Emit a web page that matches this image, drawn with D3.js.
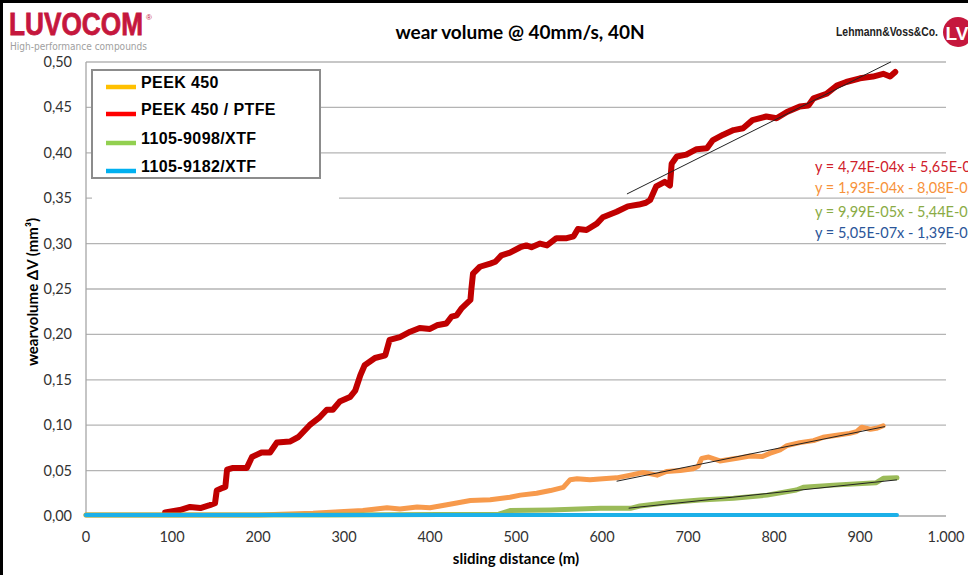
<!DOCTYPE html>
<html>
<head>
<meta charset="utf-8">
<script src="https://cdn.jsdelivr.net/npm/d3@7"></script>
<style>
  body { margin: 0; background: #fff; }
  svg { display: block; }
</style>
</head>
<body>
<script>
// series names and colours
const seriesNames = ['PEEK 450', 'PEEK 450 / PTFE', '1105-9098/XTF', '1105-9182/XTF'];
const legendColours = ['#ffc000', '#ff0000', '#92d050', '#00b0f0'];
const lineColours = ['#f79a4c', '#c00000', '#9bbb59', '#1cb0e8'];

// PEEK 450 / PTFE
const redDist = [92, 109, 121, 133, 144, 150, 152, 159, 162, 164, 171, 187, 193, 204, 214, 222, 237, 247, 260, 272, 280, 287, 295, 307, 313, 319, 324, 336, 348, 353, 365, 377, 388, 400, 408, 419, 425, 431, 437, 447, 448, 450, 458, 470, 476, 483, 493, 505, 512, 518, 528, 536, 547, 559, 567, 572, 582, 594, 601, 617, 630, 643, 651, 656, 663, 673, 679, 681, 687, 698, 710, 722, 729, 741, 753, 764, 775, 791, 803, 815, 830, 840, 846, 861, 873, 884, 900, 915, 927, 935, 941];
const redVol = [0.004, 0.0066, 0.010, 0.0088, 0.012, 0.014, 0.028, 0.031, 0.032, 0.051, 0.053, 0.053, 0.065, 0.070, 0.070, 0.081, 0.082, 0.087, 0.100, 0.109, 0.117, 0.117, 0.126, 0.131, 0.138, 0.155, 0.166, 0.174, 0.177, 0.194, 0.197, 0.203, 0.207, 0.206, 0.210, 0.212, 0.2195, 0.221, 0.229, 0.238, 0.249, 0.267, 0.2745, 0.278, 0.280, 0.287, 0.290, 0.296, 0.298, 0.296, 0.300, 0.298, 0.306, 0.306, 0.308, 0.316, 0.315, 0.322, 0.329, 0.335, 0.341, 0.343, 0.345, 0.348, 0.363, 0.368, 0.364, 0.388, 0.396, 0.398, 0.404, 0.405, 0.414, 0.420, 0.425, 0.427, 0.436, 0.440, 0.438, 0.445, 0.451, 0.452, 0.460, 0.465, 0.474, 0.478, 0.482, 0.484, 0.487, 0.484, 0.489];

// PEEK 450
const orangeDist = [0, 200, 264, 300, 322, 350, 365, 385, 400, 423, 447, 470, 493, 505, 524, 540, 555, 563, 571, 586, 601, 617, 633, 648, 664, 675, 691, 706, 712, 716, 724, 737, 757, 772, 786, 795, 807, 815, 830, 846, 857, 873, 888, 896, 902, 912, 919, 927];
const orangeVol = [0.001, 0.001, 0.003, 0.005, 0.006, 0.009, 0.0077, 0.010, 0.009, 0.013, 0.017, 0.018, 0.0206, 0.023, 0.025, 0.028, 0.0316, 0.040, 0.041, 0.040, 0.041, 0.042, 0.045, 0.048, 0.045, 0.049, 0.050, 0.052, 0.055, 0.0635, 0.065, 0.0606, 0.0635, 0.066, 0.0654, 0.069, 0.0727, 0.0775, 0.0808, 0.083, 0.0867, 0.089, 0.091, 0.093, 0.0977, 0.0955, 0.0966, 0.0994];

// 1105-9098/XTF
const greenDist = [0, 280, 480, 493, 540, 598, 633, 644, 675, 714, 753, 792, 826, 834, 869, 919, 927, 943];
const greenVol = [0.001, 0.001, 0.002, 0.006, 0.0066, 0.0084, 0.0084, 0.011, 0.0147, 0.0176, 0.0195, 0.023, 0.0286, 0.0316, 0.034, 0.0367, 0.0415, 0.042];

// 1105-9182/XTF
const blueDist = [0, 300, 600, 943];
const blueVol = [0.0012, 0.001, 0.0012, 0.0012];

// trendlines: slope, intercept, from, to
const trendSlopes = [1.93e-4, 4.74e-4, 9.99e-5];
const trendIntercepts = [-8.08e-2, 5.65e-2, -5.44e-2];
const trendFrom = [617, 629, 631];
const trendTo = [929, 936, 943];
const equations = ['y = 4,74E-04x + 5,65E-02', 'y = 1,93E-04x - 8,08E-02', 'y = 9,99E-05x - 5,44E-02', 'y = 5,05E-07x - 1,39E-04'];
const equationColours = ['#d0202a', '#f7923a', '#8aab44', '#2a5599'];

const xTicks = [0, 100, 200, 300, 400, 500, 600, 700, 800, 900, 1000];
const xTickLabels = ['0', '100', '200', '300', '400', '500', '600', '700', '800', '900', '1.000'];
const yTicks = [0, 0.05, 0.10, 0.15, 0.20, 0.25, 0.30, 0.35, 0.40, 0.45, 0.50];
const yTickLabels = ['0,00', '0,05', '0,10', '0,15', '0,20', '0,25', '0,30', '0,35', '0,40', '0,45', '0,50'];

const width = 968;
const height = 575;
const calibri = 'Lato, "Open Sans", sans-serif';

const xScale = d3.scaleLinear().domain([0, 1000]).range([86, 946]);
const yScale = d3.scaleLinear().domain([0, 0.5]).range([516, 62]);

const svg = d3.select('body')
              .append('svg')
                .attr('width', width)
                .attr('height', height);

svg.append('rect').attr('width', width).attr('height', height).attr('fill', '#fff');

// gridlines
svg.append('g')
   .selectAll('line')
   .data(yTicks.slice(1))
   .enter()
     .append('line')
       .attr('x1', xScale(0))
       .attr('x2', xScale(1000))
       .attr('y1', (d) => yScale(d))
       .attr('y2', (d) => yScale(d))
       .attr('stroke', '#b4b4b4')
       .attr('stroke-width', 1.3);

// axes lines
svg.append('line')
   .attr('x1', xScale(0)).attr('x2', xScale(0))
   .attr('y1', yScale(0.5)).attr('y2', yScale(0))
   .attr('stroke', '#a6a6a6').attr('stroke-width', 1.3);
svg.append('line')
   .attr('x1', xScale(0)).attr('x2', xScale(1000))
   .attr('y1', yScale(0)).attr('y2', yScale(0))
   .attr('stroke', '#a6a6a6').attr('stroke-width', 1.3);

// tick labels
svg.append('g')
   .selectAll('text')
   .data(yTicks)
   .enter()
     .append('text')
       .attr('x', 72)
       .attr('y', (d) => yScale(d) + 5)
       .attr('text-anchor', 'end')
       .attr('font-family', calibri)
       .attr('font-size', 14.5)
       .attr('fill', '#333')
       .text((d, i) => yTickLabels[i]);

svg.append('g')
   .selectAll('text')
   .data(xTicks)
   .enter()
     .append('text')
       .attr('x', (d) => xScale(d))
       .attr('y', 542)
       .attr('text-anchor', 'middle')
       .attr('font-family', calibri)
       .attr('font-size', 14.5)
       .attr('fill', '#333')
       .text((d, i) => xTickLabels[i]);

// axis titles
svg.append('text')
   .attr('x', 516)
   .attr('y', 564)
   .attr('text-anchor', 'middle')
   .attr('font-family', calibri)
   .attr('font-weight', 'bold')
   .attr('font-size', 15)
   .text('sliding distance (m)');

svg.append('text')
   .attr('transform', 'translate(38, 292) rotate(-90)')
   .attr('text-anchor', 'middle')
   .attr('font-family', calibri)
   .attr('font-weight', 'bold')
   .attr('font-size', 15)
   .text('wearvolume \u0394V (mm\u00b3)');

// series
const line = d3.line()
               .x((d) => xScale(d[0]))
               .y((d) => yScale(d[1]));

const seriesData = [
  d3.zip(orangeDist, orangeVol),
  d3.zip(redDist, redVol),
  d3.zip(greenDist, greenVol),
  d3.zip(blueDist, blueVol),
];
const seriesWidths = [5, 6, 5, 4];

svg.append('g')
   .selectAll('path')
   .data(seriesData)
   .enter()
     .append('path')
       .attr('d', line)
       .attr('fill', 'none')
       .attr('stroke', (d, i) => lineColours[i])
       .attr('stroke-width', (d, i) => seriesWidths[i])
       .attr('stroke-linejoin', 'round')
       .attr('stroke-linecap', 'round');

// trendlines
svg.append('g')
   .selectAll('line')
   .data(trendSlopes)
   .enter()
     .append('line')
       .attr('x1', (d, i) => xScale(trendFrom[i]))
       .attr('x2', (d, i) => xScale(trendTo[i]))
       .attr('y1', (d, i) => yScale(d * trendFrom[i] + trendIntercepts[i]))
       .attr('y2', (d, i) => yScale(d * trendTo[i] + trendIntercepts[i]))
       .attr('stroke', '#222')
       .attr('stroke-width', 1);

// trendline equations
const eqY = [172, 193, 217, 238];
svg.append('g')
   .selectAll('text')
   .data(equations)
   .enter()
     .append('text')
       .attr('x', 815)
       .attr('y', (d, i) => eqY[i])
       .attr('font-family', calibri)
       .attr('font-size', 14.5)
       .attr('fill', (d, i) => equationColours[i])
       .text((d) => d);

// legend
svg.append('rect')
   .attr('x', 92).attr('y', 180).attr('width', 247).attr('height', 22)
   .attr('fill', '#fff');
svg.append('rect')
   .attr('x', 92).attr('y', 70).attr('width', 228).attr('height', 108)
   .attr('fill', '#fff')
   .attr('stroke', '#8c8c8c')
   .attr('stroke-width', 2);

const legendY = [84, 111, 140, 168];
const legend = svg.append('g')
                  .selectAll('g')
                  .data(seriesNames)
                  .enter()
                    .append('g')
                      .attr('transform', (d, i) => `translate(0, ${legendY[i]})`);
legend.append('line')
      .attr('x1', 106).attr('x2', 136)
      .attr('y1', 3).attr('y2', 3)
      .attr('stroke', (d, i) => legendColours[i])
      .attr('stroke-width', 4.5);
legend.append('text')
      .attr('x', 141)
      .attr('y', 4)
      .attr('font-family', '"Liberation Sans", Arial, sans-serif')
      .attr('font-weight', 'bold')
      .attr('font-size', 16)
      .attr('letter-spacing', 0.4)
      .text((d) => d);

// title
svg.append('text')
   .attr('x', 520)
   .attr('y', 39)
   .attr('text-anchor', 'middle')
   .attr('font-family', calibri)
   .attr('font-weight', 'bold')
   .attr('font-size', 19)
   .text('wear volume @ 40mm/s, 40N');

// LUVOCOM logo
svg.append('text')
   .attr('x', 9)
   .attr('y', 35)
   .attr('font-family', '"Liberation Sans", Arial, sans-serif')
   .attr('font-weight', 'bold')
   .attr('font-size', 32)
   .attr('textLength', 134)
   .attr('lengthAdjust', 'spacingAndGlyphs')
   .attr('fill', '#c5173d')
   .attr('stroke', '#c5173d')
   .attr('stroke-width', 0.8)
   .text('LUVOCOM');
svg.append('text')
   .attr('x', 146)
   .attr('y', 20)
   .attr('font-family', '"Liberation Sans", Arial, sans-serif')
   .attr('font-size', 8)
   .attr('fill', '#c5173d')
   .text('\u00ae');
svg.append('text')
   .attr('x', 10)
   .attr('y', 50)
   .attr('font-family', '"DejaVu Sans", sans-serif')
   .attr('font-size', 10)
   .attr('textLength', 137)
   .attr('lengthAdjust', 'spacingAndGlyphs')
   .attr('fill', '#a0a0a0')
   .text('High-performance compounds');

// Lehmann & Voss logo
svg.append('text')
   .attr('x', 836)
   .attr('y', 36)
   .attr('font-family', '"Liberation Sans", Arial, sans-serif')
   .attr('font-weight', 'bold')
   .attr('font-size', 12)
   .attr('textLength', 102)
   .attr('lengthAdjust', 'spacingAndGlyphs')
   .attr('fill', '#222')
   .text('Lehmann&Voss&Co.');
svg.append('circle')
   .attr('cx', 958).attr('cy', 32).attr('r', 15)
   .attr('fill', '#c5173d');
svg.append('text')
   .attr('x', 957)
   .attr('y', 40)
   .attr('text-anchor', 'middle')
   .attr('font-family', '"Liberation Sans", Arial, sans-serif')
   .attr('font-weight', 'bold')
   .attr('font-size', 19)
   .attr('fill', '#fff')
   .text('LV');

// frame
svg.append('line').attr('x1', 1.5).attr('x2', 1.5).attr('y1', 0).attr('y2', height)
   .attr('stroke', '#000').attr('stroke-width', 3);
svg.append('line').attr('x1', 0).attr('x2', width).attr('y1', 1.5).attr('y2', 1.5)
   .attr('stroke', '#000').attr('stroke-width', 3);
</script>
</body>
</html>
